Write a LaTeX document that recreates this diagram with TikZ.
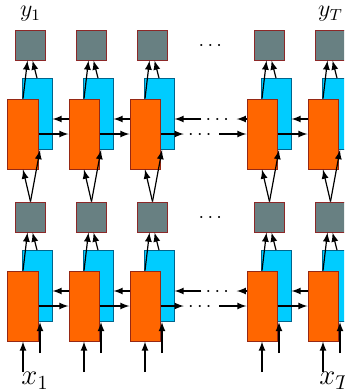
\documentclass[tikz,border=0pt]{standalone}
\usepackage{amsmath}
\usepackage{xcolor}
\usepackage{tikz}
\usetikzlibrary{calc,arrows}

\definecolor{fwdfill}{RGB}{255,102,0}
\definecolor{fwdline}{RGB}{150,40,20}
\definecolor{bwdfill}{RGB}{0,204,255}
\definecolor{bwdline}{RGB}{0,100,140}
\definecolor{outfill}{RGB}{104,128,130}
\definecolor{outline}{RGB}{140,40,40}

\begin{document}
\begin{tikzpicture}[x=0.5pt,y=-0.5pt,
		fwd/.style={draw=fwdline,fill=fwdfill,line width=0.5pt,minimum width=15pt,minimum height=35pt,inner sep=0pt},
		bwd/.style={draw=bwdline,fill=bwdfill,line width=0.5pt,minimum width=15pt,minimum height=35.5pt,inner sep=0pt},
		outbox/.style={draw=outline,fill=outfill,line width=0.5pt,minimum size=15pt,inner sep=0pt},
		link/.style={-latex,line width=0.6pt},
		dots/.style={inner xsep=2pt,inner ysep=0pt,text height=5pt,text depth=0pt},
		lab/.style={font=\Large,inner sep=0pt}]
					\clip (0,0) rectangle (344,392);
					
					% columns: forward (orange), backward (blue), output (grey)
					\foreach \i/\x in {1/23,2/84,3/145,4/262,5/323} {
						\foreach \l/\y in {a/306,b/134} {
							\node[bwd] (b\l\i) at (\x+14,\y-20) {};
							\node[fwd] (f\l\i) at (\x,\y) {};
							\node[outbox] (o\l\i) at (\x+7.5,\y-89) {};
							\draw[link] (f\l\i.north) -- ($(o\l\i.south)+(-3,0)$);
							\draw[link] (b\l\i.north) -- ($(o\l\i.south)+(2,0)$);
						}
						\coordinate (xa\i) at (\x,372);
						\coordinate (xb\i) at (\x+17,353);
						\draw[link] (xa\i) -- (fa\i.south);
						\draw[link] (xb\i) -- ($(ba\i.south)+(3,0)$);
						\draw[link] (oa\i.north) -- (fb\i.south);
						\draw[link] (oa\i.north) -- ($(bb\i.south)+(3,0)$);
					}
					
					% recurrent links
					\foreach \l/\y in {a/306,b/134} {
						\foreach \i/\j in {1/2,2/3,4/5} {
							\draw[link] (f\l\i.east) -- (f\l\j.west);
							\draw[link] ($(f\l\j.west)+(0,-15)$) -- ($(b\l\i.east)+(0,5)$);
						}
						\node[dots] (df\l) at (201.5,\y) {$\cdots$};
						\node[dots] (db\l) at (219,\y-15) {$\cdots$};
						\draw[link] (f\l3.east) -- (df\l);
						\draw[link] (df\l) -- (f\l4.west);
						\draw[link] (f\l4.west |- db\l) -- (db\l);
						\draw[link] (db\l) -- (b\l3.east |- db\l);
						\node[dots] (e\l) at (212,\y-89) {$\cdots$};
					}
					
					\node[lab,font=\large,above=4pt] (ly1) at (ob1.north) {$y_1$};
					\node[lab,font=\large,above=4pt] (lyT) at (ob5.north) {$y_T$};
					\node[lab,below] (lx1) at ($(xa1)+(12,0)$) {$x_1$};
					\node[lab,below] (lxT) at ($(xa5)+(12,0)$) {$x_T$};
				\end{tikzpicture}
\end{document}
